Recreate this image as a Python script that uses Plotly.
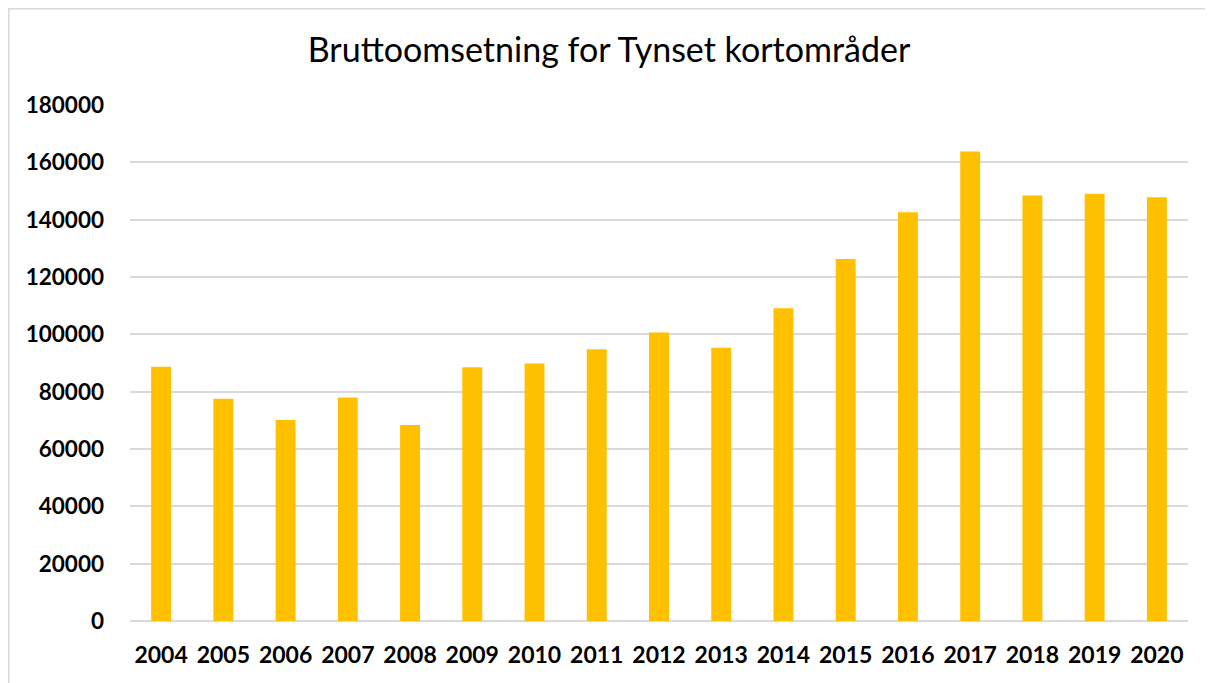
import plotly.graph_objects as go

years = ["2004", "2005", "2006", "2007", "2008", "2009", "2010", "2011", "2012",
         "2013", "2014", "2015", "2016", "2017", "2018", "2019", "2020"]
omsetning = [88700, 77500, 70100, 78000, 68400, 88500, 89800, 94800, 100600,
             95300, 109100, 126300, 142600, 163800, 148400, 149000, 147800]
y_ticks = [0, 20000, 40000, 60000, 80000, 100000, 120000, 140000, 160000, 180000]
title_text = "Bruttoomsetning for Tynset kortområder"

fig = go.Figure(
    go.Bar(x=years, y=omsetning, marker=dict(color="#FFC000", line=dict(width=0)))
)

fig.update_layout(
    width=1213, height=683,
    paper_bgcolor="white", plot_bgcolor="white",
    margin=dict(l=122, r=33, t=97, b=70),
    bargap=0.68,
    font=dict(family="Lato", color="#000000"),
    title=dict(text=title_text, x=(609 - 8) / 1213, xanchor="center",
               y=1 - 42 / 683, yanchor="middle",
               font=dict(family="Lato", size=34, color="#000000")),
    showlegend=False,
)
fig.update_xaxes(
    showgrid=False, showline=False, ticks="",
    ticklabelstandoff=18,
    tickfont=dict(family="Lato", size=23, color="#000000", weight="bold"),
)
fig.update_yaxes(
    range=[0, 180000], tickvals=y_ticks, ticktext=[str(v) for v in y_ticks],
    showgrid=True, gridcolor="#d9d9d9", gridwidth=1.5, zeroline=True,
    zerolinecolor="#d9d9d9", zerolinewidth=1.5, showline=False, ticks="",
    ticklabelstandoff=25,
    tickfont=dict(family="Lato", size=22.5, color="#000000", weight="bold"),
)
fig.add_shape(type="rect", xref="paper", yref="paper",
              x0=(8.8 - 130) / 1058, x1=(1240 - 130) / 1058,
              y0=(621 - 720) / 516, y1=(621 - 8.8) / 516,
              line=dict(color="#d9d9d9", width=1.5), layer="below")

fig.write_html("out.html")
